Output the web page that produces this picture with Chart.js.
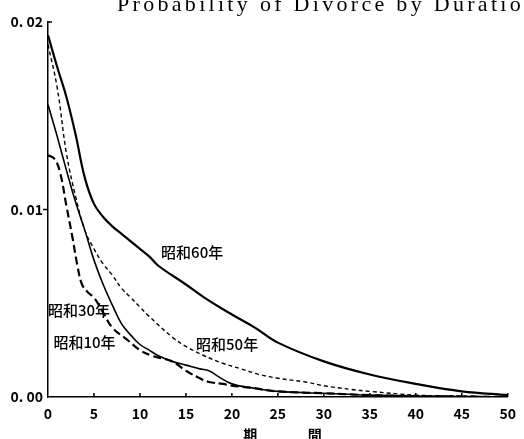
<!DOCTYPE html>
<html><head><meta charset="utf-8">
<script src="https://cdn.jsdelivr.net/npm/chart.js@4/dist/chart.umd.min.js"></script>
<style>html,body{margin:0;padding:0;background:#fff;}#wrap{width:524px;height:439px;}</style>
</head><body><div id="wrap"><canvas id="c" width="524" height="439"></canvas></div>
<script>
const titleText = "Probability of Divorce by Duration";
const xAxisTitle = ["期", "間"];
const xTicks = [0,5,10,15,20,25,30,35,40,45,50];
const yTicks = [0, 0.01, 0.02];

const dur60 = [0,1,2,3,4,5,6,7,8,9,10,11,12,15,17,20,22.5,25,30,35,40,45,50];
const p60   = [0.0193,0.0176,0.0160,0.0140,0.0117,0.0103,0.0096,0.0091,0.0087,0.0083,0.0079,0.0075,0.0070,0.0060,0.0053,0.0044,0.0037,0.0029,0.0019,0.0012,0.0007,0.0003,0.0001];

const dur50 = [0,1,2,3,4,5,6,7,8,9,10,11,13.5,15,17,19,21,23,25,28,30,33,35,40,45,50];
const p50   = [0.0188,0.0165,0.0130,0.0107,0.0089,0.0079,0.0071,0.0065,0.0058,0.0053,0.0048,0.0043,0.0032,0.0027,0.0022,0.0018,0.0015,0.0012,0.0010,0.0008,0.0006,0.0004,0.0003,0.0001,0.00005,0];

const dur30 = [0,1,2,3,4,5,6,7,8,9,10,11,12,13.5,15,16.5,17.5,18.5,20,22,25,30,35,40,50];
const p30   = [0.0156,0.0139,0.0121,0.0104,0.0089,0.0073,0.0060,0.0049,0.0039,0.0033,0.0028,0.0025,0.0022,0.0019,0.0017,0.0015,0.0014,0.0011,0.0007,0.0005,0.0003,0.0002,0.0001,0.00005,0];

const dur10 = [0,0.7,1.3,2,2.7,3.2,3.7,4.3,5,6,7,8.5,10,11.3,13.5,15,16.5,17.5,19,20,22,25,30,35,40,50];
const p10   = [0.0129,0.0127,0.0120,0.0102,0.0084,0.0070,0.0060,0.0056,0.0053,0.0045,0.0037,0.0031,0.0025,0.0022,0.0019,0.0014,0.0010,0.0008,0.0007,0.0006,0.0005,0.0003,0.0002,0.0001,0.00005,0];

const seriesNames = ["昭和60年","昭和50年","昭和30年","昭和10年"];
// label anchor (left edge x, vertical centre y) in data units
const labelX = [12.3, 16.1, 0.0, 0.6];
const labelY = [0.0077, 0.0028, 0.0046, 0.0029];

function pts(xs, ys){ return xs.map((x,i)=>({x:x, y:ys[i]})); }

const labelFont = '500 15px "Noto Sans CJK JP"';
const tickFont = {family:'"Noto Sans CJK JP"', size:14, weight:'bold'};

const decor = {
  id:'decor',
  afterDraw(chart){
    const ctx = chart.ctx, xs = chart.scales.x, ys = chart.scales.y;
    ctx.save();
    ctx.strokeStyle = '#000'; ctx.lineWidth = 1.5;
    xTicks.forEach(v=>{ if(v===0) return; const px = xs.getPixelForValue(v);
      ctx.beginPath(); ctx.moveTo(px, ys.bottom); ctx.lineTo(px, ys.bottom-4); ctx.stroke(); });
    let py = ys.getPixelForValue(0.01);
    ctx.beginPath(); ctx.moveTo(xs.left-5, py); ctx.lineTo(xs.left, py); ctx.stroke();
    py = ys.getPixelForValue(0.02);
    ctx.beginPath(); ctx.moveTo(xs.left, py); ctx.lineTo(xs.left+4, py); ctx.stroke();
    ctx.fillStyle = '#000'; ctx.font = labelFont; ctx.textBaseline='middle'; ctx.textAlign='left';
    seriesNames.forEach((n,i)=>{ ctx.fillText(n, xs.getPixelForValue(labelX[i]), ys.getPixelForValue(labelY[i])); });
    ctx.font = 'bold 14px "Noto Sans CJK JP"'; ctx.textBaseline='top'; ctx.textAlign='center';
    ctx.fillText(xAxisTitle[0], xs.getPixelForValue(22), chart.height-11);
    ctx.fillText(xAxisTitle[1], xs.getPixelForValue(29), chart.height-11);
    ctx.font = '22px "Liberation Serif"'; ctx.textBaseline='alphabetic'; ctx.textAlign='left';
    ctx.letterSpacing = '3.3px';
    ctx.fillText(titleText, 117, 11);
    ctx.restore();
  }
};

new Chart(document.getElementById('c'), {
  type:'line',
  data:{ datasets:[
    {label:seriesNames[0], data:pts(dur60,p60), borderColor:'#000', borderWidth:2.2},
    {label:seriesNames[1], data:pts(dur50,p50), borderColor:'#000', borderWidth:1.4, borderDash:[4,3]},
    {label:seriesNames[2], data:pts(dur30,p30), borderColor:'#000', borderWidth:1.6},
    {label:seriesNames[3], data:pts(dur10,p10), borderColor:'#000', borderWidth:2.2, borderDash:[8,4]}
  ]},
  options:{
    responsive:false, animation:false,
    layout:{padding:{top:22, right:11, left:0, bottom:0}},
    elements:{point:{radius:0}, line:{tension:0.4, fill:false}},
    plugins:{legend:{display:false}, tooltip:{enabled:false}},
    scales:{
      x:{type:'linear', min:0, max:50,
         afterBuildTicks(s){ s.ticks = xTicks.map(v=>({value:v})); },
         afterFit(s){ s.height = 42; },
         grid:{display:true, drawOnChartArea:false, drawTicks:false},
         border:{display:true, color:'#000', width:1.5},
         ticks:{color:'#000', font:tickFont, padding:8, maxRotation:0, autoSkip:false}},
      y:{type:'linear', min:0, max:0.02,
         afterBuildTicks(s){ s.ticks = yTicks.map(v=>({value:v})); },
         afterFit(s){ s.width = 48; },
         grid:{display:true, drawOnChartArea:false, drawTicks:false},
         border:{display:true, color:'#000', width:1.5},
         ticks:{color:'#000', font:tickFont, padding:5, callback:(v)=>v.toFixed(2).replace('.', '. ')}}
    }
  },
  plugins:[decor]
});
</script></body></html>
